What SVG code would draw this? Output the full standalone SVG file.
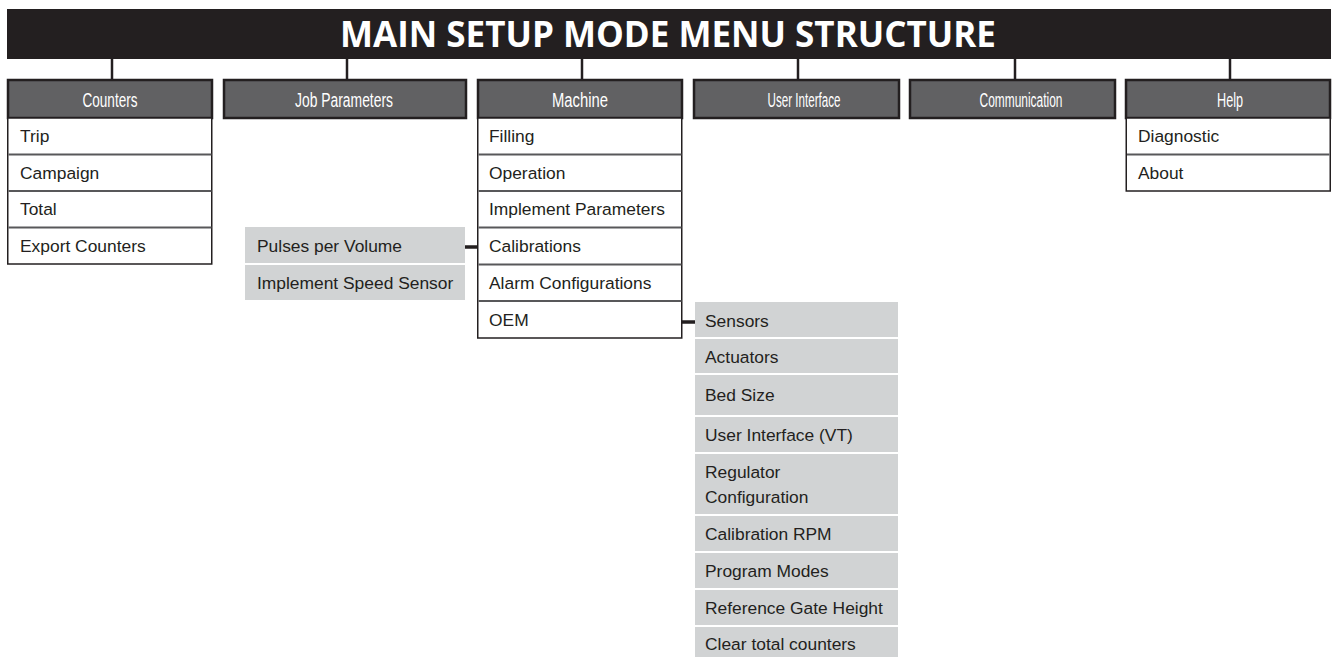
<svg xmlns="http://www.w3.org/2000/svg" width="1335" height="657" viewBox="0 0 1335 657">
<style>
.bar{fill:#231f20}
.title{font-family:"Open Sans","Liberation Sans",sans-serif;font-weight:700;font-size:35px;fill:#fff}
.hdr{fill:#616163;stroke:#231f20;stroke-width:2.5}
.hdrt{font-family:"Liberation Sans",Arial,sans-serif;font-size:19.5px;fill:#fff;text-anchor:middle}
.item{fill:#fff;stroke:#231f20;stroke-width:1.5}
.div{stroke:#58585a;stroke-width:1.8}
.gray{fill:#d1d3d4}
.t{font-family:"Liberation Sans",Arial,sans-serif;font-size:17.4px;fill:#231f20}
.conn{stroke:#231f20;stroke-width:2.5;fill:none}
.conn2{stroke:#231f20;stroke-width:3.5;fill:none}
</style>
<rect width="1335" height="657" fill="#fff"/>
<g id="title">
<rect class="bar" x="7" y="9" width="1324" height="50"/>
<text class="title" x="668" y="47" text-anchor="middle">MAIN SETUP MODE MENU STRUCTURE</text>
</g>
<g id="connectors">
<line class="conn" x1="112" y1="59" x2="112" y2="79"/>
<line class="conn" x1="347" y1="59" x2="347" y2="79"/>
<line class="conn" x1="582" y1="59" x2="582" y2="79"/>
<line class="conn" x1="798" y1="59" x2="798" y2="79"/>
<line class="conn" x1="1015" y1="59" x2="1015" y2="79"/>
<line class="conn" x1="1230" y1="59" x2="1230" y2="79"/>
<line class="conn2" x1="465" y1="247" x2="477" y2="247"/>
<line class="conn2" x1="682" y1="322" x2="695" y2="322"/>
</g>
<g id="counters">
<rect class="hdr" x="8" y="80" width="204" height="38"/>
<text class="hdrt" x="110" y="107" textLength="55" lengthAdjust="spacingAndGlyphs">Counters</text>
<rect class="item" x="7.75" y="118" width="204" height="146"/>
<line class="div" x1="8.5" y1="154.5" x2="211.5" y2="154.5"/>
<line class="div" x1="8.5" y1="191" x2="211.5" y2="191"/>
<line class="div" x1="8.5" y1="227.5" x2="211.5" y2="227.5"/>
<text class="t" x="20" y="142">Trip</text>
<text class="t" x="20" y="179">Campaign</text>
<text class="t" x="20" y="215">Total</text>
<text class="t" x="20" y="252">Export Counters</text>
</g>
<g id="job-parameters">
<rect class="hdr" x="224" y="80" width="242" height="38"/>
<text class="hdrt" x="344" y="107" textLength="98" lengthAdjust="spacingAndGlyphs">Job Parameters</text>
</g>
<g id="job-calibration-items">
<rect class="gray" x="245" y="227" width="220" height="36"/>
<rect class="gray" x="245" y="265" width="220" height="35"/>
<text class="t" x="257" y="252">Pulses per Volume</text>
<text class="t" x="257" y="289">Implement Speed Sensor</text>
</g>
<g id="machine">
<rect class="hdr" x="478" y="80" width="204" height="38"/>
<text class="hdrt" x="580" y="107" textLength="56" lengthAdjust="spacingAndGlyphs">Machine</text>
<rect class="item" x="477.75" y="118" width="204" height="220"/>
<line class="div" x1="478.5" y1="154.5" x2="681.5" y2="154.5"/>
<line class="div" x1="478.5" y1="191" x2="681.5" y2="191"/>
<line class="div" x1="478.5" y1="227.5" x2="681.5" y2="227.5"/>
<line class="div" x1="478.5" y1="264.5" x2="681.5" y2="264.5"/>
<line class="div" x1="478.5" y1="301" x2="681.5" y2="301"/>
<text class="t" x="489" y="142">Filling</text>
<text class="t" x="489" y="179">Operation</text>
<text class="t" x="489" y="215">Implement Parameters</text>
<text class="t" x="489" y="252">Calibrations</text>
<text class="t" x="489" y="289">Alarm Configurations</text>
<text class="t" x="489" y="326">OEM</text>
</g>
<g id="oem-items">
<rect class="gray" x="695" y="302" width="203" height="35"/>
<rect class="gray" x="695" y="339" width="203" height="34"/>
<rect class="gray" x="695" y="375" width="203" height="40"/>
<rect class="gray" x="695" y="417" width="203" height="35"/>
<rect class="gray" x="695" y="454" width="203" height="60"/>
<rect class="gray" x="695" y="516" width="203" height="35"/>
<rect class="gray" x="695" y="553" width="203" height="35"/>
<rect class="gray" x="695" y="590" width="203" height="35"/>
<rect class="gray" x="695" y="627" width="203" height="30"/>
<text class="t" x="705" y="327">Sensors</text>
<text class="t" x="705" y="363">Actuators</text>
<text class="t" x="705" y="401">Bed Size</text>
<text class="t" x="705" y="441">User Interface (VT)</text>
<text class="t" x="705" y="478">Regulator</text>
<text class="t" x="705" y="503">Configuration</text>
<text class="t" x="705" y="540">Calibration RPM</text>
<text class="t" x="705" y="577">Program Modes</text>
<text class="t" x="705" y="614">Reference Gate Height</text>
<text class="t" x="705" y="650">Clear total counters</text>
</g>
<g id="user-interface">
<rect class="hdr" x="694" y="80" width="205" height="38"/>
<text class="hdrt" x="804" y="107" textLength="73" lengthAdjust="spacingAndGlyphs">User Interface</text>
</g>
<g id="communication">
<rect class="hdr" x="910" y="80" width="205" height="38"/>
<text class="hdrt" x="1021" y="107" textLength="83" lengthAdjust="spacingAndGlyphs">Communication</text>
</g>
<g id="help">
<rect class="hdr" x="1126" y="80" width="204" height="38"/>
<text class="hdrt" x="1230" y="107" textLength="26" lengthAdjust="spacingAndGlyphs">Help</text>
<rect class="item" x="1126.25" y="118" width="204" height="73"/>
<line class="div" x1="1127" y1="154.5" x2="1329.5" y2="154.5"/>
<text class="t" x="1138" y="142">Diagnostic</text>
<text class="t" x="1138" y="179">About</text>
</g>
</svg>
